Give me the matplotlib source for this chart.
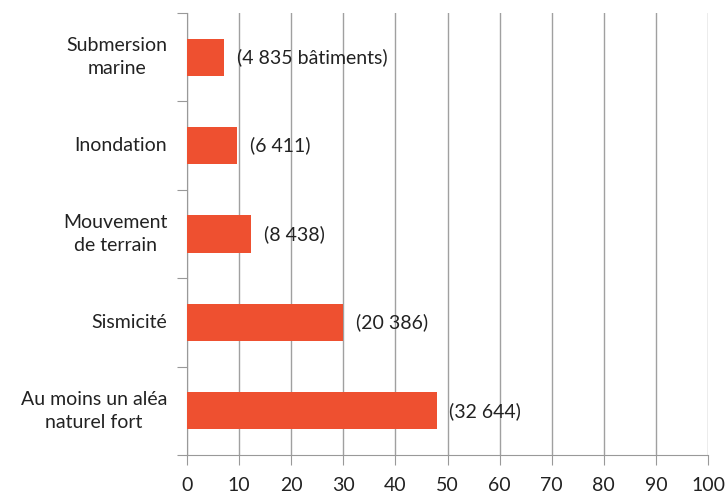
import matplotlib.pyplot as plt

categories = ["Au moins un aléa\nnaturel fort", "Sismicité", "Mouvement\nde terrain",
              "Inondation", "Submersion\nmarine"]
values = [47.9, 30.0, 12.3, 9.6, 7.1]
labels = ["(32 644)", "(20 386)", "(8 438)", "(6 411)", "(4 835 bâtiments)"]

plt.rcParams['font.family'] = ['Lato', 'DejaVu Sans']

fig = plt.figure(figsize=(7.28, 5.01), dpi=100)
ax = fig.add_axes([0.257, 0.092, 0.7155, 0.882])

pos = list(range(len(categories)))
ax.barh(pos, values, height=0.42, color="#EE5030", zorder=3)

for p, v, t in zip(pos, values, labels):
    ax.annotate(t, (v, p), xytext=(9, 0), textcoords="offset points",
                va="center", ha="left", fontsize=14, color="#222222")

ax.set_xlim(0, 100)
ax.set_ylim(-0.5, len(categories) - 0.5)
ax.set_xticks(range(0, 101, 10))
ax.tick_params(axis="x", labelsize=14, colors="#222222", length=7, color="#999999", pad=9)

# category labels between boundary ticks
ax.set_yticks([p - 0.5 for p in pos] + [len(pos) - 0.5])
ax.set_yticklabels([])
ax.tick_params(axis="y", length=7, color="#999999")
for p, c in zip(pos, categories):
    ax.text(-0.038, p, c, transform=ax.get_yaxis_transform(), ha="right", va="center",
            multialignment="center", linespacing=1.45, fontsize=14, color="#222222")

ax.grid(axis="x", color="#A0A0A0", linewidth=1, zorder=0)
for s in ["top", "right"]:
    ax.spines[s].set_visible(False)
for s in ["left", "bottom"]:
    ax.spines[s].set_color("#999999")

fig.savefig("out.png", dpi=100)
